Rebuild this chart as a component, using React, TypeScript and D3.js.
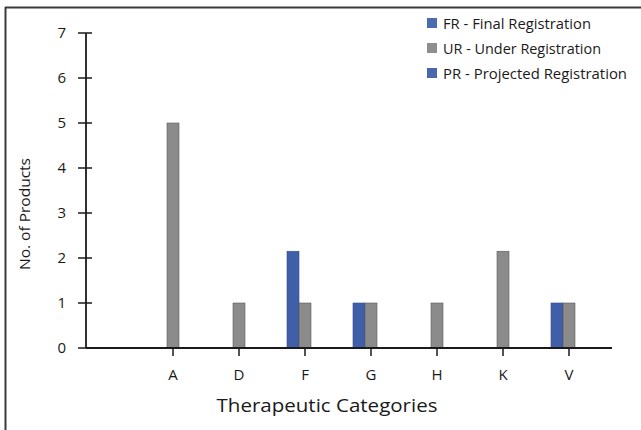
import React from "react";
import * as d3 from "d3";

const categories = ["A", "D", "F", "G", "H", "K", "V"];
const seriesKeys = ["FR", "UR", "PR"];
const frValues = [0, 0, 2.15, 1, 0, 0, 1];
const urValues = [5, 1, 1, 1, 1, 2.15, 1];
const prValues = [0, 0, 0, 0, 0, 0, 0];
const yTicks = [0, 1, 2, 3, 4, 5, 6, 7];
const legendLabels = [
  "FR - Final Registration",
  "UR - Under Registration",
  "PR - Projected Registration",
];

const W = 641;
const H = 430;
const FONT = "'Century Gothic', 'URW Gothic', 'Open Sans', 'DejaVu Sans', sans-serif";
const BLUE = "#3f5fa9";
const GRAY = "#8b8b8b";
const colors: Record<string, string> = { FR: BLUE, UR: GRAY, PR: BLUE };
const strokes: Record<string, string> = { FR: "#34508f", UR: "#5a5a5a", PR: "#34508f" };
const legendColors = ["#4a6cb0", "#8e8e8e", "#4a66ad"];

export default function App() {
  const axisX = 86;
  const axisEnd = 612;
  const y = d3.scaleLinear().domain([0, 7]).range([348, 33]);
  const x = d3.scaleBand<string>().domain(categories).range([140, 602]);
  const sub = d3.scaleBand<string>().domain(seriesKeys).range([-18, 18]);
  const data: Record<string, number[]> = { FR: frValues, UR: urValues, PR: prValues };
  const cx = (c: string) => (x(c) as number) + x.bandwidth() / 2;

  return (
    <svg
      width={W}
      height={H}
      style={{ position: "absolute", left: 0, top: 0, background: "#fff" }}
      fontFamily={FONT}
    >
      <rect x={0} y={0} width={W} height={H} fill="#fff" />
      {/* frame */}
      <line x1={5.5} y1={7} x2={5.5} y2={H} stroke="#3a3a3a" strokeWidth={2} />
      <line x1={5} y1={7.5} x2={W} y2={7.5} stroke="#3a3a3a" strokeWidth={2} />

      {/* bars */}
      {seriesKeys.map((k) =>
        categories.map((c, i) => {
          const v = data[k][i];
          if (!v) return null;
          const bx = cx(c) + (sub(k) as number);
          return (
            <rect
              key={k + c}
              x={bx}
              y={y(v)}
              width={sub.bandwidth()}
              height={y(0) - y(v)}
              fill={colors[k]}
              stroke={strokes[k]}
              strokeWidth={0.6}
            />
          );
        })
      )}

      {/* y axis */}
      <line x1={axisX} y1={y(7)} x2={axisX} y2={y(0)} stroke="#1a1a1a" strokeWidth={1.8} />
      {yTicks.map((t) => (
        <g key={t}>
          <line x1={78} x2={92} y1={y(t)} y2={y(t)} stroke="#1a1a1a" strokeWidth={1.5} />
          <text
            x={66}
            y={y(t)}
            dy="0.36em"
            textAnchor="end"
            fontSize={15}
            fill="#1a1a1a"
          >
            {t}
          </text>
        </g>
      ))}

      {/* x axis */}
      <line x1={axisX} y1={y(0)} x2={axisEnd} y2={y(0)} stroke="#1a1a1a" strokeWidth={1.8} />
      {categories.map((c) => (
        <g key={c}>
          <line x1={cx(c)} x2={cx(c)} y1={y(0)} y2={y(0) + 8} stroke="#1a1a1a" strokeWidth={1.5} />
          <text x={cx(c)} y={380} textAnchor="middle" fontSize={15} fill="#1a1a1a">
            {c}
          </text>
        </g>
      ))}

      {/* axis titles */}
      <text
        x={327}
        y={412}
        textAnchor="middle"
        fontSize={19}
        fill="#1a1a1a"
        textLength={221}
        lengthAdjust="spacingAndGlyphs"
      >
        Therapeutic Categories
      </text>
      <text
        transform="translate(30,214) rotate(-90)"
        textAnchor="middle"
        fontSize={14}
        fill="#1a1a1a"
        textLength={112}
        lengthAdjust="spacingAndGlyphs"
      >
        No. of Products
      </text>

      {/* legend */}
      {legendLabels.map((l, i) => (
        <g key={l} transform={`translate(427, ${18 + i * 25})`}>
          <rect x={0} y={0} width={10} height={10} fill={legendColors[i]} />
          <text
            x={16}
            y={11}
            fontSize={14}
            fill="#1a1a1a"
            textLength={i === 0 ? 148 : i === 1 ? 158 : 184}
            lengthAdjust="spacingAndGlyphs"
          >
            {l}
          </text>
        </g>
      ))}
    </svg>
  );
}
